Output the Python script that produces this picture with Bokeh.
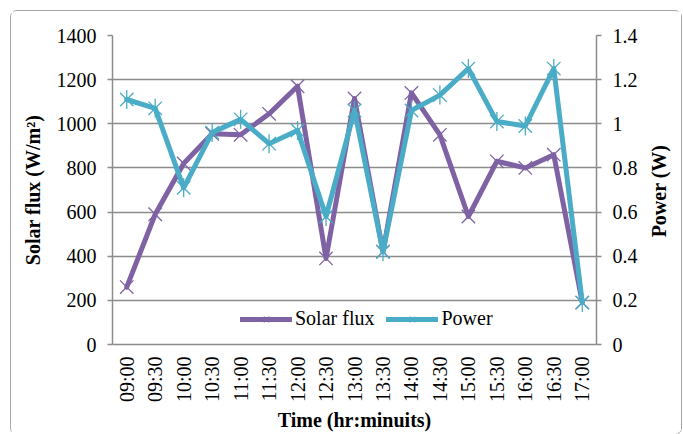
import math
from bokeh.plotting import figure
from bokeh.layouts import row
from bokeh.models import (Range1d, LinearAxis, FixedTicker, CustomJSTickFormatter,
                          Legend, LegendItem, ColumnDataSource, Label)
from bokeh.embed import file_html
from bokeh.resources import INLINE

times = ["09:00", "09:30", "10:00", "10:30", "11:00", "11:30", "12:00", "12:30", "13:00",
         "13:30", "14:00", "14:30", "15:00", "15:30", "16:00", "16:30", "17:00"]
solar_flux = [260, 590, 820, 955, 950, 1045, 1170, 390, 1115, 420, 1140, 950, 580, 830, 800, 860, 190]
power = [1.11, 1.07, 0.71, 0.96, 1.02, 0.91, 0.97, 0.58, 1.06, 0.42, 1.06, 1.13, 1.25, 1.01, 0.99, 1.25, 0.19]
flux_ticks = [0, 200, 400, 600, 800, 1000, 1200, 1400]
power_ticks = [0, 0.2, 0.4, 0.6, 0.8, 1.0, 1.2, 1.4]

PURPLE = "#7f62a4"
CYAN = "#4aacc6"
GRID = "#8c8c8c"
FONT = "Liberation Serif"

FRAME_W = 484
FRAME_H = 309
LEFT = 101
TOP = 24
RIGHT = 45
BOTTOM = 87
H = TOP + FRAME_H + BOTTOM
SIDE_W = 40

src = ColumnDataSource(dict(t=times, flux=solar_flux, power=power))

p = figure(x_range=times, y_range=Range1d(0, 1400),
           width=LEFT + FRAME_W + RIGHT, height=H,
           frame_width=FRAME_W, frame_height=FRAME_H,
           output_backend="svg", toolbar_location=None,
           min_border_left=LEFT, min_border_right=RIGHT, min_border_top=TOP,
           min_border_bottom=BOTTOM)
p.extra_y_ranges = {"power": Range1d(0, 1.4)}
p.outline_line_color = None
p.background_fill_color = "white"
p.border_fill_color = "white"

p.xgrid.visible = False
p.ygrid.ticker = FixedTicker(ticks=flux_ticks)
p.ygrid.grid_line_color = GRID
p.ygrid.grid_line_width = 1.5

ya = p.yaxis[0]
ya.ticker = FixedTicker(ticks=flux_ticks)
ya.axis_label = "Solar flux (W/m²)"

ra = LinearAxis(y_range_name="power", ticker=FixedTicker(ticks=power_ticks),
                formatter=CustomJSTickFormatter(code="return String(Number(tick.toFixed(1)));"))
p.add_layout(ra, "right")

xa = p.xaxis[0]
xa.axis_label = "Time (hr:minuits)"
xa.major_label_orientation = math.pi / 2

for ax in [ya, ra, xa]:
    ax.axis_line_color = GRID
    ax.axis_line_width = 1.5
    ax.major_tick_line_color = GRID
    ax.major_tick_line_width = 1.5
    ax.major_tick_out = 5
    ax.major_tick_in = 0
    ax.minor_tick_line_color = None
    ax.major_label_text_font = FONT
    ax.major_label_text_font_size = "20px"
    ax.major_label_text_color = "black"
    ax.axis_label_text_font = FONT
    ax.axis_label_text_font_size = "20px"
    ax.axis_label_text_font_style = "bold"
    ax.axis_label_text_color = "black"
    ax.major_label_standoff = 11

xa.major_tick_line_color = None
xa.major_tick_out = 0
xa.major_label_standoff = 12
xa.axis_label_standoff = 4
ya.axis_label_standoff = 10

l1 = p.line("t", "flux", source=src, line_color=PURPLE, line_width=5,
            line_cap="round", line_join="round")
m1 = p.scatter("t", "flux", source=src, marker="x", size=19,
               line_color=PURPLE, line_width=1.3)
l2 = p.line("t", "power", source=src, y_range_name="power", line_color=CYAN,
            line_width=5, line_cap="round", line_join="round")
m2a = p.scatter("t", "power", source=src, y_range_name="power", marker="x", size=19,
                line_color=CYAN, line_width=1.3)
m2b = p.scatter("t", "power", source=src, y_range_name="power", marker="dash", size=19,
                angle=math.pi / 2, line_color=CYAN, line_width=1.3)

legend = Legend(items=[LegendItem(label="Solar flux", renderers=[l1, m1]),
                       LegendItem(label="Power", renderers=[l2, m2a, m2b])],
                orientation="horizontal", location=(128, 14),
                glyph_width=52, glyph_height=20, label_standoff=3, spacing=12,
                padding=2, margin=0, border_line_color=None, background_fill_alpha=0,
                label_text_font=FONT, label_text_font_size="20px", label_text_color="black")
p.add_layout(legend, "center")

# narrow strip holding the right-hand axis title, reading bottom-to-top
side = figure(width=SIDE_W, height=H, frame_width=SIDE_W, frame_height=H,
              x_range=Range1d(0, 1), y_range=Range1d(0, 1),
              output_backend="svg", toolbar_location=None,
              min_border=0, min_border_left=0, min_border_right=0,
              min_border_top=0, min_border_bottom=0)
side.axis.visible = False
side.grid.visible = False
side.outline_line_color = None
side.background_fill_color = "white"
side.border_fill_color = "white"
side.add_layout(Label(x=17, y=H - (TOP + FRAME_H / 2) + 23, x_units="screen", y_units="screen",
                      text="Power (W)", angle=math.pi / 2, text_align="center",
                      text_baseline="middle", text_font=FONT, text_font_size="20px",
                      text_font_style="bold", text_color="black"))

layout = row(p, side, spacing=0)
layout.styles = {"border": "1px solid #a6a6a6", "border-radius": "7px",
                 "margin-left": "10px", "margin-top": "10px", "background": "white"}

open("out.html", "w").write(file_html(layout, INLINE))
